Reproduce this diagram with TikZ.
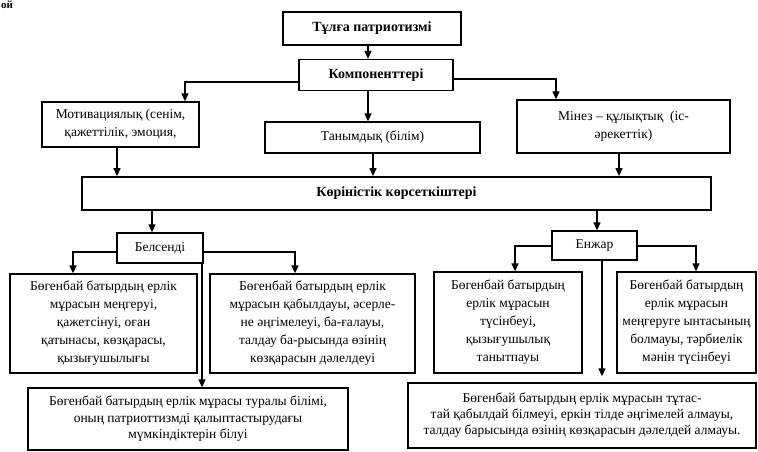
\documentclass[tikz,border=0pt]{standalone}
\usepackage{fontspec}
\setmainfont{Liberation Serif}
\usetikzlibrary{arrows.meta}
\tikzset{
  box/.style={draw, line width=1.3pt, align=center, inner sep=0pt,
    font=\fontsize{13.5}{18}\selectfont, anchor=center},
  bbox/.style={box, font=\fontsize{14}{18}\selectfont\bfseries},
  arr/.style={line width=1.3pt, -{Triangle[length=8pt,width=7pt]}}
}
\begin{document}
\begin{tikzpicture}[x=1pt,y=-1pt]
\useasboundingbox (0,0) rectangle (758,452);
\node[anchor=base west, inner sep=0pt, font=\fontsize{11}{11}\selectfont\bfseries] (frag) at (1,9) {ой};
% top
\node[bbox, minimum width=178pt, minimum height=33pt] (t1) at (372,28.5) {Тұлға патриотизмі};
\node[bbox, minimum width=154pt, minimum height=31pt] (t2) at (376,75) {Компоненттері};
\node[box, minimum width=157pt, minimum height=45pt] (mot) at (120.5,124.5) {Мотивациялық (сенім,\\қажеттілік, эмоция,};
\node[box, minimum width=215pt, minimum height=31pt] (tan) at (372.5,137.5) {Танымдық (білім)};
\node[box, minimum width=213pt, minimum height=53pt] (min) at (623.5,126.5) {Мінез – құлықтық\ \ (іс-\\әрекеттік)};
\node[bbox, line width=1.8pt, minimum width=629pt, minimum height=33pt] (kor) at (396.5,193.5) {Көріністік көрсеткіштері};
\node[box, minimum width=86pt, minimum height=30pt] (bel) at (160,248) {Белсенді};
\node[box, minimum width=85pt, minimum height=29pt] (enz) at (594.5,245.5) {Енжар};
% level 3
\node[box, minimum width=187pt, minimum height=99pt] (b1) at (103.5,323.5) {Бөгенбай батырдың ерлік\\мұрасын меңгеруі,\\қажетсінуі, оған\\қатынасы, көзқарасы,\\қызығушылығы};
\node[box, minimum width=205pt, minimum height=99pt] (b2) at (312.5,323.5) {Бөгенбай батырдың ерлік\\мұрасын қабылдауы, әсерле-\\не әңгімелеуі, ба-ғалауы,\\талдау ба-рысында өзінің\\көзқарасын дәлелдеуі};
\node[box, minimum width=148pt, minimum height=101pt] (r1) at (508,322.5) {Бөгенбай батырдың\\ерлік мұрасын\\түсінбеуі,\\қызығушылық\\танытпауы};
\node[box, minimum width=139pt, minimum height=101pt] (r2) at (686.5,322.5) {Бөгенбай батырдың\\ерлік мұрасын\\меңгеруге ынтасының\\болмауы, тәрбиелік\\мәнін түсінбеуі};
% bottom
\node[box, font=\fontsize{13.5}{16.5}\selectfont, minimum width=320pt, minimum height=62pt] (c) at (188,419) {Бөгенбай батырдың ерлік мұрасы туралы білімі,\\оның патриоттизмді қалыптастырудағы\\мүмкіндіктерін білуі};
\node[box, font=\fontsize{13.5}{16}\selectfont, minimum width=348pt, minimum height=65pt] (d) at (582,415.5) {Бөгенбай батырдың ерлік мұрасын тұтас-\\тай қабылдай білмеуі, еркін тілде әңгімелей алмауы,\\талдау барысында өзінің көзқарасын дәлелдей алмауы.};
% connectors
\draw[arr] (t1.south -| 368,0) -- (t2.north -| 368,0);
\draw[arr] (t2.west |- 0,82) -| (mot.north -| 185,0);
\draw[arr] (t2.south -| 368,0) -- (tan.north -| 368,0);
\draw[arr] (t2.east |- 0,79) -| (min.north -| 556,0);
\draw[arr] (mot.south -| 117,0) -- (kor.north -| 117,0);
\draw[arr] (tan.south -| 373,0) -- (kor.north -| 373,0);
\draw[arr] (min.south -| 619,0) -- (kor.north -| 619,0);
\draw[arr] (kor.south -| 152,0) -- (bel.north -| 152,0);
\draw[arr] (kor.south -| 597,0) -- (enz.north -| 597,0);
\draw[arr] (bel.west |- 0,252) -| (b1.north -| 73,0);
\draw[arr] (bel.east |- 0,252) -| (b2.north -| 295,0);
\draw[arr] (bel.south -| 202,0) -- (c.north -| 202,0);
\draw[arr] (enz.west |- 0,246) -| (r1.north -| 515,0);
\draw[arr] (enz.east |- 0,246) -| (r2.north -| 696,0);
\draw[arr, shorten >=6pt] (enz.south -| 602,0) -- (d.north -| 602,0);
\end{tikzpicture}
\end{document}
